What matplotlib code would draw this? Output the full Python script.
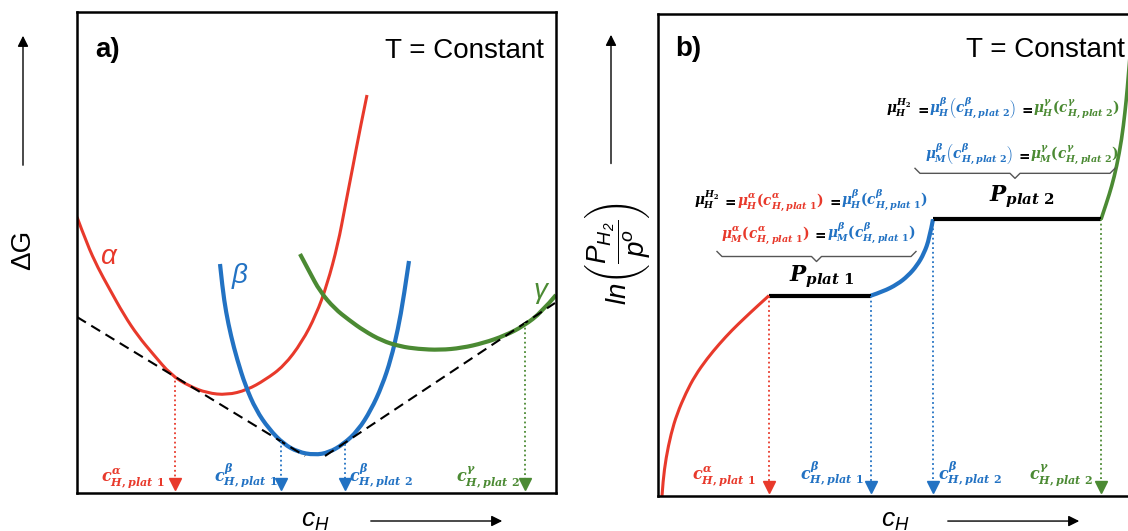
import matplotlib
matplotlib.use("Agg")
import matplotlib.pyplot as plt
from matplotlib import transforms
from matplotlib.path import Path
from matplotlib.patches import PathPatch

plt.rcParams['font.family'] = ['Liberation Sans', 'DejaVu Sans']
plt.rcParams['mathtext.fontset'] = 'custom'
plt.rcParams['mathtext.it'] = 'DejaVu Serif:italic:bold'
plt.rcParams['mathtext.rm'] = 'DejaVu Serif:bold'
plt.rcParams['mathtext.bf'] = 'DejaVu Serif:bold'
plt.rcParams['mathtext.sf'] = 'Liberation Sans:italic'

RED = '#e8392b'
BLUE = '#2272c3'
GREEN = '#4b8a33'

# ---- panel a: free energy curves (arbitrary units)
alpha_x = [0, 10, 21, 32, 47, 61, 76, 94, 112, 130, 150, 170, 188, 207, 225, 239, 250, 261, 268, 276, 283, 290]
alpha_y = [276, 249, 225, 205, 178, 157, 139, 118, 107, 100, 98, 103, 113, 127, 151, 178, 208, 249, 286, 327, 364, 398]

beta_x = [143, 145.5, 149, 154, 160, 168.5, 179, 192, 206.6, 221, 237.5, 252, 266.6, 281, 294, 305, 314, 321, 326.6, 332]
beta_y = [229, 205, 181, 157, 134, 107, 83, 64, 49, 41, 38, 40.5, 49, 62.5, 83, 107, 134, 164, 195, 232]

gamma_x = [223, 232, 243, 257.5, 272, 286.6, 304.8, 323, 341, 363, 384.8, 406.6, 428, 446.6, 464.8, 479]
gamma_y = [239, 222, 201.5, 184.5, 173, 162.5, 152.3, 146.6, 144, 143, 145, 150, 157.4, 167, 181, 198]

tangent1_x = [0, 228]
tangent1_y = [176, 37]
tangent2_x = [248, 478]
tangent2_y = [37, 190]

drop_a_x = [98, 204, 268, 448]
drop_a_top = [117, 52, 49, 170]

# ---- panel b: pressure-composition isotherm
iso_red_x = [4, 5, 8, 13, 19, 28, 37, 49, 61.5, 74, 86.4, 98.8, 111]
iso_red_y = [0, 15, 38, 62, 82, 103, 120, 137, 152, 165.5, 177.4, 189, 200]

plat1_x = [111, 213]
plat1_y = [200, 200]

iso_blue_x = [213, 225, 239.4, 250, 259, 266, 271.4, 275]
iso_blue_y = [200, 204, 211.3, 219.7, 230, 242, 257, 276]

plat2_x = [275, 443]
plat2_y = [276, 276]

iso_green_x = [443, 448.7, 453.7, 458.7, 463.7, 467, 469.3, 472, 475]
iso_green_y = [276, 293, 309, 329, 356, 383, 406, 440, 470]

drop_b_x = [111, 213, 275, 443]
drop_b_top = [200, 200, 276, 276]

drop_colors = [RED, BLUE, BLUE, GREEN]
drop_labels = [r'$c^{\alpha}_{H,plat\ 1}$', r'$c^{\beta}_{H,plat\ 1}$',
               r'$c^{\beta}_{H,plat\ 2}$', r'$c^{\gamma}_{H,plat\ 2}$']

EQ = r'$\,=\,$'
eq_plat2_top = [(r'$\mu^{H_2}_{H}$', 'k'), (EQ, 'k'),
                (r'$\mu^{\beta}_{H}\left(c^{\beta}_{H,plat\ 2}\right)$', BLUE), (EQ, 'k'),
                (r'$\mu^{\gamma}_{H}(c^{\gamma}_{H,plat\ 2})$', GREEN)]
eq_plat2_bot = [(r'$\mu^{\beta}_{M}\left(c^{\beta}_{H,plat\ 2}\right)$', BLUE), (EQ, 'k'),
                (r'$\mu^{\gamma}_{M}(c^{\gamma}_{H,plat\ 2})$', GREEN)]
eq_plat1_top = [(r'$\mu^{H_2}_{H}$', 'k'), (EQ, 'k'),
                (r'$\mu^{\alpha}_{H}(c^{\alpha}_{H,plat\ 1})$', RED), (EQ, 'k'),
                (r'$\mu^{\beta}_{H}(c^{\beta}_{H,plat\ 1})$', BLUE)]
eq_plat1_bot = [(r'$\mu^{\alpha}_{M}(c^{\alpha}_{H,plat\ 1})$', RED), (EQ, 'k'),
                (r'$\mu^{\beta}_{M}(c^{\beta}_{H,plat\ 1})$', BLUE)]


def smooth(ax, xs, ys, **kw):
    # quadratic bezier through the midpoints, read points act as controls
    pts = list(zip(xs, ys))
    verts = [pts[0]]
    codes = [Path.MOVETO]
    for i in range(1, len(pts) - 1):
        mid = ((pts[i][0] + pts[i + 1][0]) / 2, (pts[i][1] + pts[i + 1][1]) / 2)
        if i == len(pts) - 2:
            mid = pts[-1]
        verts += [pts[i], mid]
        codes += [Path.CURVE3, Path.CURVE3]
    ax.add_patch(PathPatch(Path(verts, codes), fill=False, capstyle='butt', **kw))


def color_text(ax, x, y, parts, size, ha='center'):
    # several coloured pieces on one baseline
    fig = ax.figure
    r = fig.canvas.get_renderer()
    texts = [ax.text(x, y, s, color=c, fontsize=size, va='baseline', ha='left')
             for s, c in parts]
    widths = [t.get_window_extent(r).width for t in texts]
    total = sum(widths)
    off = {'left': 0, 'center': -total / 2, 'right': -total}[ha]
    for t, w in zip(texts, widths):
        t.set_transform(transforms.offset_copy(ax.transData, fig=fig, x=off, y=0, units='dots'))
        off += w


def brace(ax, x0, x1, y, h):
    xm = (x0 + x1) / 2
    ax.plot([x0, x0 + h, xm - h, xm, xm + h, x1 - h, x1],
            [y + h, y, y, y - h, y, y, y + h],
            color='#555555', lw=1, solid_joinstyle='round')


def drops(ax, xs, tops, y_lab, lab_x, lab_ha):
    for x, top, c, lab, lx, ha in zip(xs, tops, drop_colors, drop_labels, lab_x, lab_ha):
        ax.plot([x, x], [top, 10], ls=(0, (1, 1.6)), lw=1.3, color=c)
        ax.plot(x, 9, marker='v', ms=9, color=c, clip_on=False)
        ax.text(lx, y_lab, lab, color=c, fontsize=11.5, ha=ha, va='baseline')


def frame(ax):
    ax.set_xlim(0, 479)
    ax.set_ylim(0, 481)
    ax.set_xticks([])
    ax.set_yticks([])
    for s in ax.spines.values():
        s.set_linewidth(1.8)


fig = plt.figure(figsize=(11.28, 5.31), dpi=100)
ax_a = fig.add_axes([77 / 1128, 38 / 531, 479 / 1128, 481 / 531])
ax_b = fig.add_axes([658 / 1128, 35 / 531, 479 / 1128, 482 / 531])
frame(ax_a)
frame(ax_b)

# panel a
ax_a.plot(tangent1_x, tangent1_y, color='k', lw=1.5, dashes=(5, 3))
ax_a.plot(tangent2_x, tangent2_y, color='k', lw=1.5, dashes=(5, 3))
smooth(ax_a, alpha_x, alpha_y, color=RED, lw=2.2)
smooth(ax_a, beta_x, beta_y, color=BLUE, lw=3)
smooth(ax_a, gamma_x, gamma_y, color=GREEN, lw=3)
drops(ax_a, drop_a_x, drop_a_top, 11, [88, 201, 272, 443], ['right', 'right', 'left', 'right'])

ax_a.text(31, 236, r'α', color=RED, fontsize=20, style='italic', ha='center', va='center')
ax_a.text(163, 217, r'β', color=BLUE, fontsize=20, style='italic', ha='center', va='center')
ax_a.text(463, 202, r'γ', color=GREEN, fontsize=20, style='italic', ha='center', va='center')
ax_a.text(18, 436, 'a)', fontsize=20, fontweight='bold', va='baseline')
ax_a.text(467, 435, 'T = Constant', fontsize=20, ha='right', va='baseline')

ax_a.text(-54, 243, 'ΔG', fontsize=20, rotation=90, ha='center', va='center')
ax_a.annotate('', xy=(-54, 460), xytext=(-54, 325), annotation_clip=False,
              arrowprops=dict(arrowstyle='-|>', color='k', lw=1, mutation_scale=16))
ax_a.text(238, -28, r'$\mathsf{c_H}$', fontsize=19, ha='center', va='center')
ax_a.annotate('', xy=(428, -28), xytext=(291, -28), annotation_clip=False,
              arrowprops=dict(arrowstyle='-|>', color='k', lw=1, mutation_scale=16))

# panel b
smooth(ax_b, iso_red_x, iso_red_y, color=RED, lw=2.2)
smooth(ax_b, iso_blue_x, iso_blue_y, color=BLUE, lw=3)
smooth(ax_b, iso_green_x, iso_green_y, color=GREEN, lw=2.6)
ax_b.plot(plat1_x, plat1_y, color='k', lw=3, solid_capstyle='butt')
ax_b.plot(plat2_x, plat2_y, color='k', lw=3, solid_capstyle='butt')
drops(ax_b, drop_b_x, drop_b_top, 16, [98, 206, 280, 435], ['right', 'right', 'left', 'right'])

color_text(ax_b, 345, 382, eq_plat2_top, 9.8)
color_text(ax_b, 364, 336, eq_plat2_bot, 9.8)
brace(ax_b, 257, 457, 322, 5)
ax_b.text(364, 294, r'$P_{plat\ 2}$', fontsize=15.5, ha='center', va='baseline')

color_text(ax_b, 153, 290, eq_plat1_top, 9.8)
color_text(ax_b, 160, 257, eq_plat1_bot, 9.8)
brace(ax_b, 59, 258, 239, 5)
ax_b.text(164, 214, r'$P_{plat\ 1}$', fontsize=15.5, ha='center', va='baseline')

ax_b.text(17, 439, 'b)', fontsize=20, fontweight='bold', va='baseline')
ax_b.text(467, 438, 'T = Constant', fontsize=20, ha='right', va='baseline')

ax_b.text(-40, 242, r'$\mathsf{ln}\left(\dfrac{\mathsf{P_{H_2}}}{\mathsf{p^o}}\right)$',
          fontsize=20, rotation=90, ha='center', va='center')
ax_b.annotate('', xy=(-47, 463), xytext=(-47, 329), annotation_clip=False,
              arrowprops=dict(arrowstyle='-|>', color='k', lw=1, mutation_scale=16))
ax_b.text(237, -25, r'$\mathsf{c_H}$', fontsize=19, ha='center', va='center')
ax_b.annotate('', xy=(424, -25), xytext=(287, -25), annotation_clip=False,
              arrowprops=dict(arrowstyle='-|>', color='k', lw=1, mutation_scale=16))

fig.savefig('out.png', dpi=100)
